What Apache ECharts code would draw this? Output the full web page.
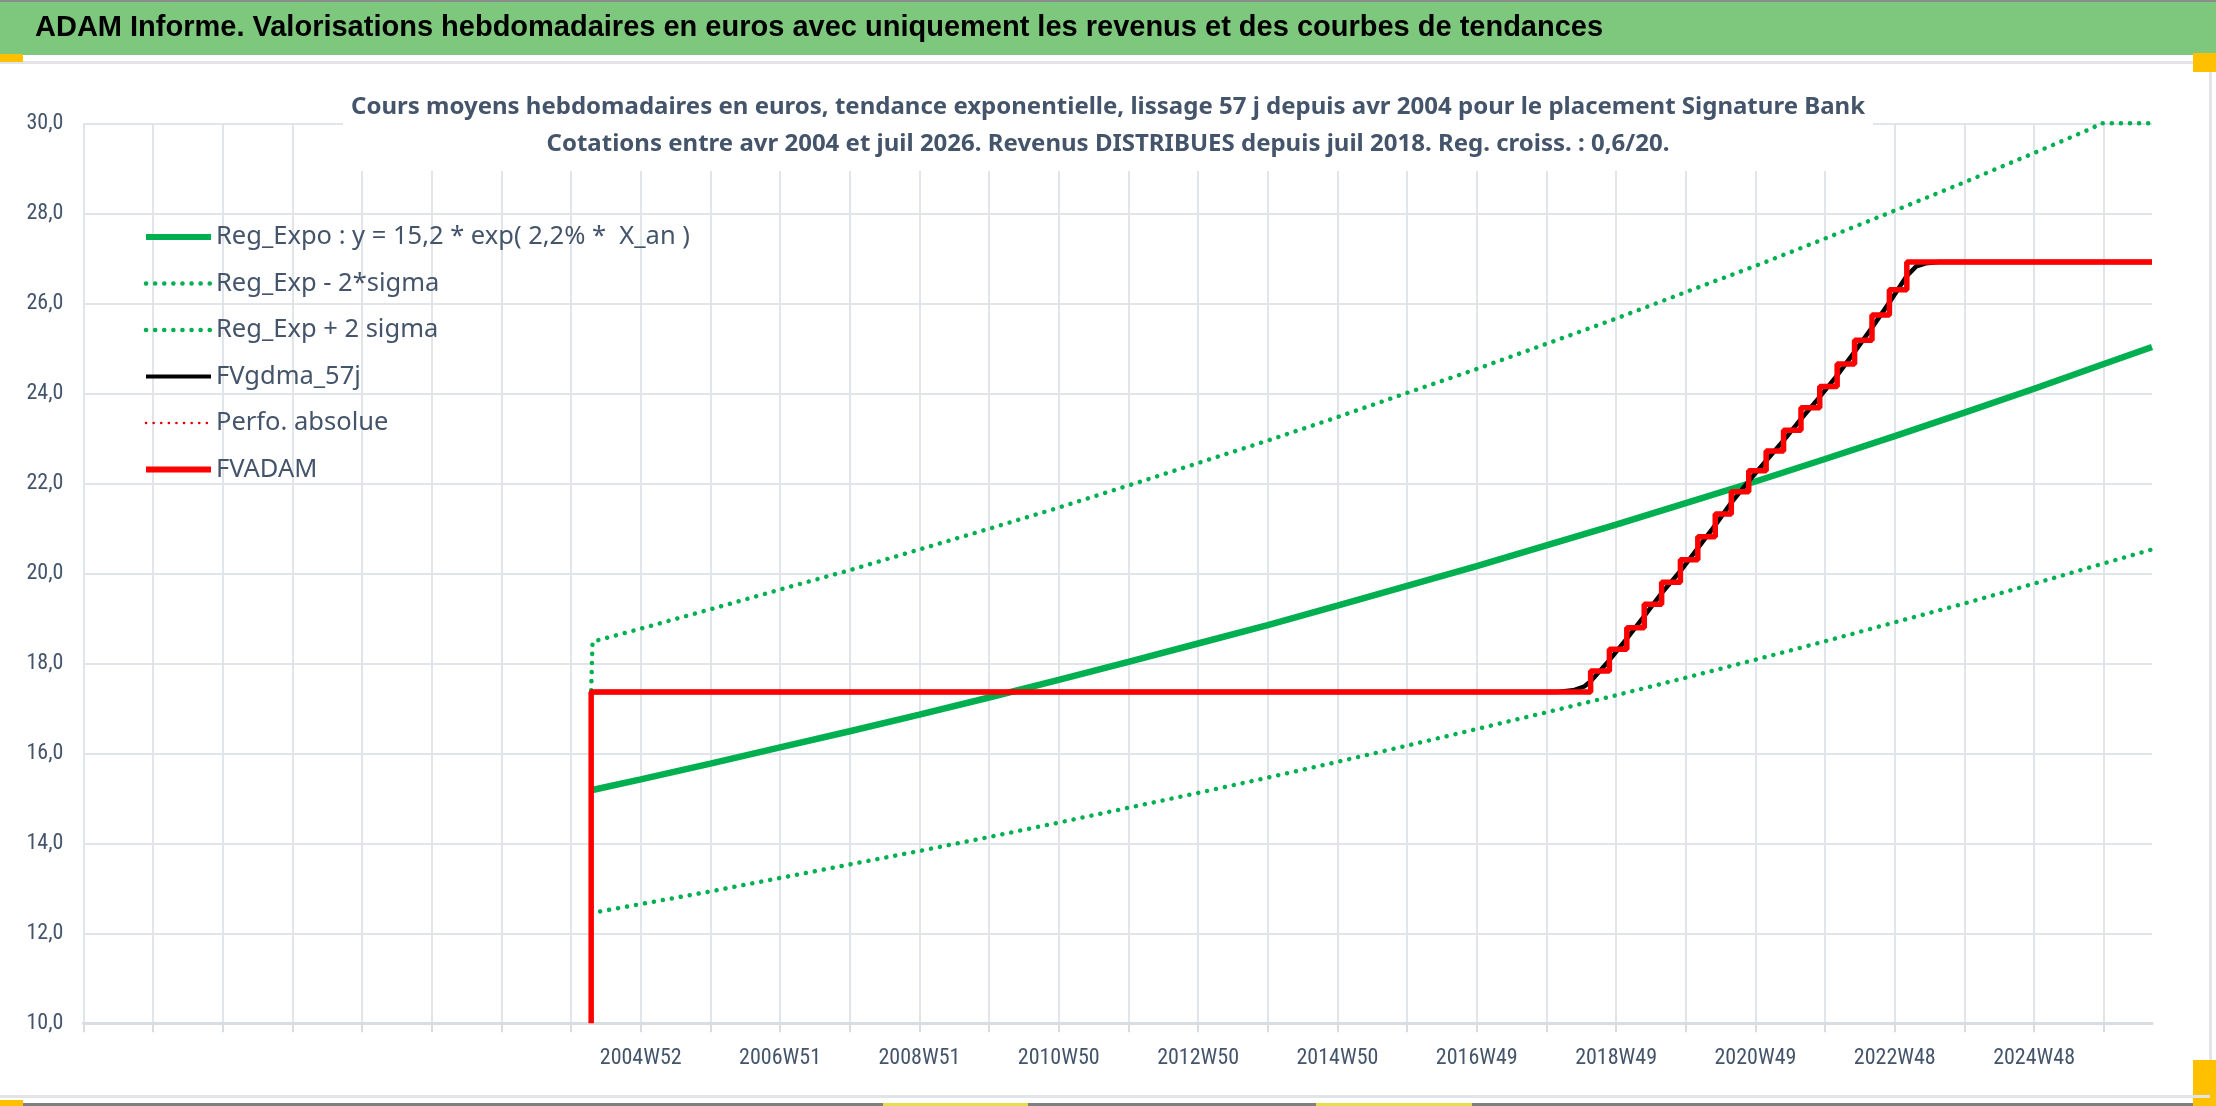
<!DOCTYPE html>
<html>
<head>
<meta charset="utf-8">
<title>ADAM Informe - Signature Bank</title>
<script src="https://cdn.jsdelivr.net/npm/echarts@6/dist/echarts.min.js"></script>
<style>
  html, body { margin: 0; padding: 0; background: #fff; }
  #chart { width: 2216px; height: 1106px; }
</style>
</head>
<body>
<div id="chart"></div>
<script>
// axe X : index de semaine (0 = première catégorie de l'axe, une graduation toutes les 52 semaines)
var tickLabels = ['2004W52', '2006W51', '2008W51', '2010W50', '2012W50', '2014W50',
                  '2016W49', '2018W49', '2020W49', '2022W48', '2024W48'];
var firstLabelWeek = 416;
var labelStep = 104;
var lastWeek = 1544;

// Reg_Expo et bandes +/- 2 sigma
var regWeeks = [379, 416, 468, 520, 572, 624, 676, 728, 780, 832, 884, 936, 988, 1040,
                1092, 1144, 1196, 1248, 1300, 1352, 1404, 1456, 1508, 1544];
var regExpo = [15.18, 15.42, 15.77, 16.13, 16.49, 16.86, 17.24, 17.63, 18.03, 18.44, 18.85, 19.28,
               19.72, 20.16, 20.62, 21.08, 21.56, 22.04, 22.54, 23.05, 23.57, 24.10, 24.65, 25.03];
var regLow = [12.45, 12.65, 12.93, 13.23, 13.53, 13.83, 14.14, 14.46, 14.79, 15.12, 15.46, 15.81,
              16.17, 16.54, 16.91, 17.29, 17.68, 18.08, 18.49, 18.91, 19.33, 19.77, 20.22, 20.53];
var highWeeks = [379, 380, 416, 468, 520, 572, 624, 676, 728, 780, 832, 884, 936, 988, 1040,
                 1092, 1144, 1196, 1248, 1300, 1352, 1404, 1456, 1500, 1505, 1544];
var regHigh = [17.4, 18.48, 18.77, 19.20, 19.64, 20.07, 20.53, 20.99, 21.46, 21.95, 22.45, 22.95,
               23.47, 24.01, 24.54, 25.10, 25.66, 26.25, 26.83, 27.44, 28.06, 28.69, 29.34, 29.90, 30.0, 30.0];

// FVADAM : escalier (revenus trimestriels distribués depuis juil 2018)
var fvadamWeeks = [379, 379, 1125, 1139, 1152, 1165, 1178, 1192, 1205, 1218, 1230, 1243,
                   1256, 1269, 1282, 1296, 1309, 1322, 1335, 1348, 1361, 1544];
var fvadam = [10.0, 17.36, 17.83, 18.31, 18.79, 19.31, 19.80, 20.30, 20.81, 21.32, 21.81, 22.28,
              22.72, 23.18, 23.68, 24.15, 24.65, 25.18, 25.74, 26.30, 26.92, 26.92];

// FVgdma_57j : version lissée
var gdmaWeeks = [379, 1100, 1112, 1120, 1125, 1139, 1152, 1165, 1178, 1192, 1205, 1218, 1230,
                 1243, 1256, 1269, 1282, 1296, 1309, 1322, 1335, 1348, 1361, 1368, 1375, 1385, 1544];
var gdma = [17.36, 17.36, 17.40, 17.48, 17.60, 18.07, 18.55, 19.05, 19.56, 20.05, 20.56, 21.07, 21.57,
            22.05, 22.50, 22.95, 23.43, 23.92, 24.40, 24.92, 25.46, 26.02, 26.61, 26.82, 26.89, 26.92, 26.92];

function pairs(xs, ys) {
    return xs.map(function (x, i) { return [x, ys[i]]; });
}

var txtGray = '#44546a';
var gridGray = '#e1e4e9';
var sans = "'Noto Sans', 'DejaVu Sans', sans-serif";
var cond = "'Roboto Condensed', 'DejaVu Sans Condensed', sans-serif";
var green = '#00b050';
var dots = [0.1, 9];
var noSymbol = { color: 'transparent', borderColor: 'transparent', opacity: 0 };

var myChart = echarts.init(document.getElementById('chart'));

var option = {
    backgroundColor: '#fff',
    animation: false,
    title: {
        text: 'Cours moyens hebdomadaires en euros, tendance exponentielle, lissage 57 j depuis avr 2004 pour le placement Signature Bank\n' +
              'Cotations entre avr 2004 et juil 2026. Revenus DISTRIBUES depuis juil 2018. Reg. croiss. : 0,6/20.',
        left: 'center',
        top: 81,
        padding: [8, 8],
        backgroundColor: '#fff',
        textStyle: {
            fontFamily: sans,
            fontWeight: 'bold',
            fontSize: 24,
            lineHeight: 37,
            color: txtGray
        }
    },
    legend: {
        orient: 'vertical',
        left: 143,
        top: 222,
        padding: 0,
        itemWidth: 65,
        itemHeight: 14,
        itemGap: 16.5,
        selectedMode: false,
        itemStyle: noSymbol,
        textStyle: { fontFamily: sans, fontSize: 25.5, lineHeight: 30, color: txtGray },
        data: [
            { name: 'Reg_Expo : y = 15,2 * exp( 2,2% *  X_an )', lineStyle: { width: 6 } },
            { name: 'Reg_Exp - 2*sigma', lineStyle: { width: 4.5 } },
            { name: 'Reg_Exp + 2 sigma', lineStyle: { width: 4.5 } },
            { name: 'FVgdma_57j', lineStyle: { width: 4 } },
            { name: 'Perfo. absolue', lineStyle: { width: 2.5 } },
            { name: 'FVADAM', lineStyle: { width: 6 } }
        ]
    },
    grid: { left: 83.4, right: 64, top: 123.3, bottom: 82.7, containLabel: false },
    xAxis: {
        type: 'value',
        min: 0,
        max: lastWeek,
        interval: 52,
        axisLine: { show: true, lineStyle: { color: '#d9dce1', width: 3 } },
        axisTick: { show: true, length: 9, lineStyle: { color: '#d9dce1', width: 2 } },
        splitLine: { show: true, showMaxLine: false, lineStyle: { color: gridGray, width: 2 } },
        axisLabel: {
            margin: 24,
            fontFamily: cond,
            fontSize: 22,
            color: txtGray,
            showMaxLabel: false,
            formatter: function (v) {
                var k = (v - firstLabelWeek) / labelStep;
                return (k >= 0 && k === Math.floor(k) && k < tickLabels.length) ? tickLabels[k] : '';
            }
        }
    },
    yAxis: {
        type: 'value',
        min: 10,
        max: 30,
        interval: 2,
        axisLine: { show: false },
        axisTick: { show: false },
        splitLine: { show: true, lineStyle: { color: gridGray, width: 2 } },
        axisLabel: {
            margin: 20,
            fontFamily: cond,
            fontSize: 22,
            color: txtGray,
            formatter: function (v) { return v.toFixed(1).replace('.', ','); }
        }
    },
    series: [
        {   // bande basse
            name: 'Reg_Exp - 2*sigma',
            type: 'line', symbol: 'none',
            lineStyle: { color: green, width: 4.5, type: dots, cap: 'round' },
            itemStyle: { color: green },
            data: pairs(regWeeks, regLow)
        },
        {   // bande haute
            name: 'Reg_Exp + 2 sigma',
            type: 'line', symbol: 'none',
            lineStyle: { color: green, width: 4.5, type: dots, cap: 'round' },
            itemStyle: { color: green },
            data: pairs(highWeeks, regHigh)
        },
        {
            name: 'Reg_Expo : y = 15,2 * exp( 2,2% *  X_an )',
            type: 'line', symbol: 'none',
            lineStyle: { color: green, width: 6.5 },
            itemStyle: { color: green },
            data: pairs(regWeeks, regExpo)
        },
        {
            name: 'FVgdma_57j',
            type: 'line', symbol: 'none',
            lineStyle: { color: '#000', width: 4.5 },
            itemStyle: { color: '#000' },
            data: pairs(gdmaWeeks, gdma)
        },
        {
            name: 'Perfo. absolue',
            type: 'line', symbol: 'none',
            lineStyle: { color: '#e00000', width: 2.5, type: [0.1, 7.5], cap: 'round' },
            itemStyle: { color: '#e00000' },
            data: []
        },
        {
            name: 'FVADAM',
            type: 'line', symbol: 'none',
            step: 'end',
            lineStyle: { color: '#ff0000', width: 5.5 },
            itemStyle: { color: '#ff0000' },
            data: pairs(fvadamWeeks, fvadam)
        }
    ],
    graphic: [
        { type: 'rect', shape: { x: 0, y: 0, width: 2216, height: 2 }, style: { fill: '#8c8c8c' }, silent: true },
        { type: 'rect', shape: { x: 0, y: 2, width: 2216, height: 53 }, style: { fill: '#7ec87d' }, silent: true },
        { type: 'rect', shape: { x: 0, y: 61, width: 2216, height: 3 }, style: { fill: '#e2e4e8' }, silent: true },
        { type: 'rect', shape: { x: 0, y: 54, width: 23, height: 8 }, style: { fill: '#ffc000' }, silent: true },
        { type: 'rect', shape: { x: 2193, y: 53, width: 23, height: 19 }, style: { fill: '#ffc000' }, silent: true },
        { type: 'rect', shape: { x: 2209, y: 72, width: 3, height: 988 }, style: { fill: '#e2e4e8' }, silent: true },
        { type: 'rect', shape: { x: 2193, y: 1060, width: 23, height: 46 }, style: { fill: '#ffc000' }, silent: true },
        { type: 'rect', shape: { x: 0, y: 1095, width: 2210, height: 3 }, style: { fill: '#e2e4e8' }, silent: true },
        { type: 'rect', shape: { x: 0, y: 1103, width: 2193, height: 3 }, style: { fill: '#7f7f7f' }, silent: true },
        { type: 'rect', shape: { x: 0, y: 1100, width: 23, height: 6 }, style: { fill: '#ffc000' }, silent: true },
        { type: 'rect', shape: { x: 883, y: 1103, width: 145, height: 3 }, style: { fill: '#e8dc4c' }, silent: true },
        { type: 'rect', shape: { x: 1316, y: 1103, width: 156, height: 3 }, style: { fill: '#e8dc4c' }, silent: true },
        {
            type: 'text', silent: true,
            style: {
                x: 35, y: 28,
                text: 'ADAM Informe. Valorisations hebdomadaires en euros avec uniquement les revenus et des courbes de tendances',
                font: "bold 29px 'Liberation Sans', 'Noto Sans', sans-serif",
                fill: '#000',
                verticalAlign: 'middle'
            }
        }
    ]
};

myChart.setOption(option);
</script>
</body>
</html>
